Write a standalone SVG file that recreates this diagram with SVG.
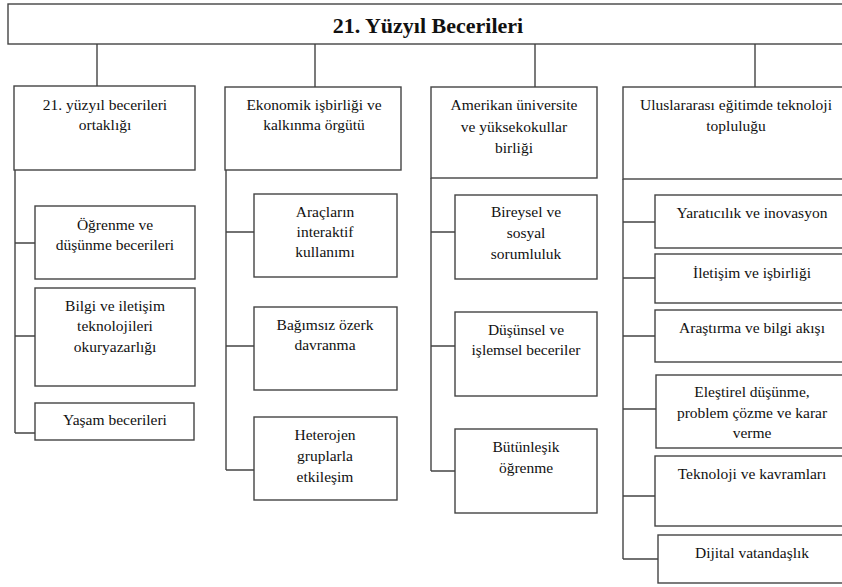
<svg xmlns="http://www.w3.org/2000/svg" width="842" height="587" viewBox="0 0 842 587">
<style>
rect{fill:#fff;stroke:#444;stroke-width:1.4}
text{font-family:"Liberation Serif","DejaVu Serif","Times New Roman",serif;font-size:15.5px;fill:#111;text-anchor:middle}
.title{font-size:22px;font-weight:bold}
#connectors path{fill:none;stroke:#444;stroke-width:1.4}
</style>
<rect width="842" height="587" style="fill:#fff;stroke:none"/>
<g id="connectors">
<path d="M97,44V86M315,44V87M535,44V87M755,44V87"/>
<path d="M15,170V433M15,243H35M15,336H35M15,433H35"/>
<path d="M226,170V470M226,232H254M226,346H254M226,470H254"/>
<path d="M431,178V471M431,232H455M431,346H455M431,471H455"/>
<path d="M623,179V559M623,222H655M623,278H655M623,336H655M623,409H656M623,496H655M623,559H658"/>
</g>
<g font-family="Liberation Serif, serif">
<g id="root"><rect x="8" y="4" width="850" height="40"/><text class="title" x="428" y="33">21. Yüzyıl Becerileri</text></g>
<g id="c1"><rect x="14" y="86" width="181" height="84"/><text x="105" y="110">21. yüzyıl becerileri</text><text x="105" y="130">ortaklığı</text></g>
<g id="c1a"><rect x="35" y="206" width="160" height="73"/><text x="115" y="230">Öğrenme ve</text><text x="115" y="250">düşünme becerileri</text></g>
<g id="c1b"><rect x="35" y="288" width="160" height="98"/><text x="115" y="311">Bilgi ve iletişim</text><text x="115" y="331">teknolojileri</text><text x="115" y="352">okuryazarlığı</text></g>
<g id="c1c"><rect x="35" y="403" width="159" height="37"/><text x="115" y="425">Yaşam becerileri</text></g>
<g id="c2"><rect x="225" y="87" width="176" height="83"/><text x="314" y="110">Ekonomik işbirliği ve</text><text x="314" y="130">kalkınma örgütü</text></g>
<g id="c2a"><rect x="254" y="194" width="143" height="83"/><text x="325" y="217">Araçların</text><text x="325" y="237">interaktif</text><text x="325" y="257">kullanımı</text></g>
<g id="c2b"><rect x="254" y="307" width="143" height="83"/><text x="325" y="330">Bağımsız özerk</text><text x="325" y="350">davranma</text></g>
<g id="c2c"><rect x="254" y="417" width="143" height="83"/><text x="325" y="440">Heterojen</text><text x="325" y="461">gruplarla</text><text x="325" y="482">etkileşim</text></g>
<g id="c3"><rect x="431" y="87" width="166" height="91"/><text x="514" y="110">Amerikan üniversite</text><text x="514" y="132">ve yüksekokullar</text><text x="514" y="153">birliği</text></g>
<g id="c3a"><rect x="455" y="195" width="142" height="84"/><text x="526" y="217">Bireysel ve</text><text x="526" y="238">sosyal</text><text x="526" y="259">sorumluluk</text></g>
<g id="c3b"><rect x="455" y="312" width="142" height="84"/><text x="526" y="335">Düşünsel ve</text><text x="526" y="355">işlemsel beceriler</text></g>
<g id="c3c"><rect x="455" y="429" width="142" height="84"/><text x="526" y="452">Bütünleşik</text><text x="526" y="473">öğrenme</text></g>
<g id="c4"><rect x="623" y="87" width="227" height="92"/><text x="736" y="110">Uluslararası eğitimde teknoloji</text><text x="736" y="131">topluluğu</text></g>
<g id="c4a"><rect x="655" y="195" width="195" height="53"/><text x="752" y="218">Yaratıcılık ve inovasyon</text></g>
<g id="c4b"><rect x="655" y="254" width="195" height="49"/><text x="752" y="278">İletişim ve işbirliği</text></g>
<g id="c4c"><rect x="655" y="310" width="195" height="52"/><text x="752" y="333">Araştırma ve bilgi akışı</text></g>
<g id="c4d"><rect x="656" y="375" width="194" height="73"/><text x="752" y="397">Eleştirel düşünme,</text><text x="752" y="418">problem çözme ve karar</text><text x="752" y="438">verme</text></g>
<g id="c4e"><rect x="655" y="456" width="195" height="70"/><text x="752" y="479">Teknoloji ve kavramları</text></g>
<g id="c4f"><rect x="658" y="535" width="192" height="48"/><text x="752" y="558">Dijital vatandaşlık</text></g>
</g>
</svg>
